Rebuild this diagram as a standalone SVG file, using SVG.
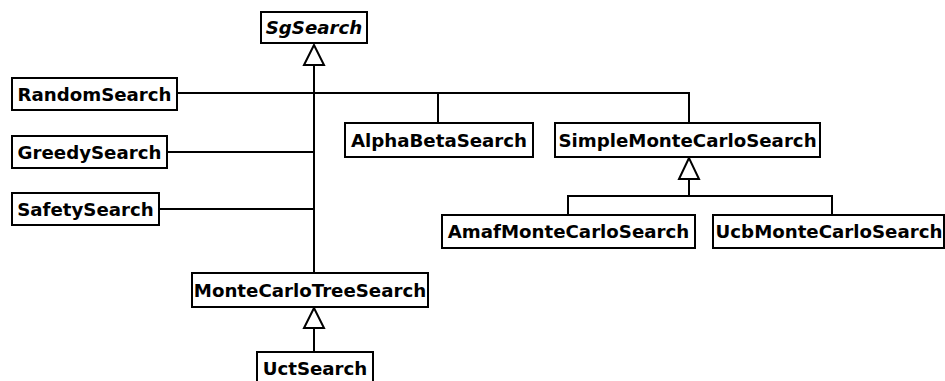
<svg xmlns="http://www.w3.org/2000/svg" width="945" height="381" viewBox="0 0 945 381">
<style>
.box{fill:#fff;stroke:#000;stroke-width:2}
.t{font-family:"DejaVu Sans",sans-serif;font-weight:bold;font-size:18.2px;text-anchor:middle;fill:#000}
.it{font-style:italic}
.c{fill:none;stroke:#000;stroke-width:2}
.tri{fill:#fff;stroke:#000;stroke-width:2}
</style>
<rect width="945" height="381" fill="#fff"/>
<g id="connectors">
<line class="c" x1="314" y1="65" x2="314" y2="273"/>
<polyline class="c" points="177,93 689,93 689,123"/>
<line class="c" x1="438" y1="93" x2="438" y2="123"/>
<line class="c" x1="167" y1="152" x2="314" y2="152"/>
<line class="c" x1="159" y1="209" x2="314" y2="209"/>
<polygon class="tri" points="314,45 304,65 324,65"/>
<line class="c" x1="689" y1="179" x2="689" y2="196"/>
<polyline class="c" points="568,215 568,196 832,196 832,215"/>
<polygon class="tri" points="689,158 679,179 699,179"/>
<line class="c" x1="314" y1="328" x2="314" y2="352"/>
<polygon class="tri" points="314,308 304,328 324,328"/>
</g>
<g id="SgSearch"><rect class="box" x="261" y="12" width="106" height="31"/><text class="t it" x="314" y="34">SgSearch</text></g>
<g id="RandomSearch"><rect class="box" x="12" y="78" width="165" height="32"/><text class="t" x="94.5" y="100.5">RandomSearch</text></g>
<g id="GreedySearch"><rect class="box" x="12" y="136" width="155" height="32"/><text class="t" x="89.5" y="158.5">GreedySearch</text></g>
<g id="SafetySearch"><rect class="box" x="12" y="193" width="147" height="32"/><text class="t" x="85.5" y="215.5">SafetySearch</text></g>
<g id="AlphaBetaSearch"><rect class="box" x="345" y="123" width="188" height="34"/><text class="t" x="439" y="146.5">AlphaBetaSearch</text></g>
<g id="SimpleMonteCarloSearch"><rect class="box" x="555" y="123" width="265" height="34"/><text class="t" x="687.5" y="146.5">SimpleMonteCarloSearch</text></g>
<g id="AmafMonteCarloSearch"><rect class="box" x="442" y="215" width="253" height="33"/><text class="t" x="568.5" y="238">AmafMonteCarloSearch</text></g>
<g id="UcbMonteCarloSearch"><rect class="box" x="713" y="215" width="231" height="33"/><text class="t" x="829" y="238">UcbMonteCarloSearch</text></g>
<g id="MonteCarloTreeSearch"><rect class="box" x="192" y="273" width="236" height="34"/><text class="t" x="310" y="296.5">MonteCarloTreeSearch</text></g>
<g id="UctSearch"><rect class="box" x="257" y="352" width="116" height="33"/><text class="t" x="315" y="375">UctSearch</text></g>
</svg>
